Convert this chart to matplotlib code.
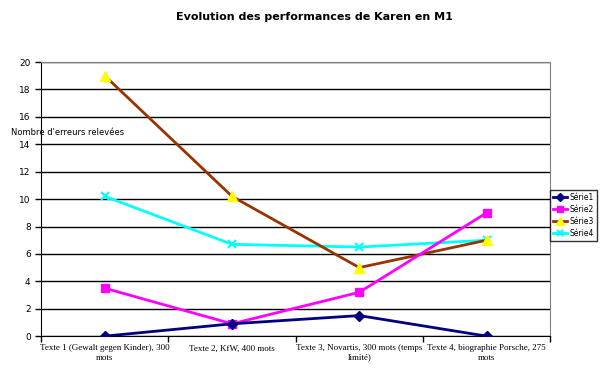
import matplotlib
matplotlib.use("Agg")
import matplotlib.pyplot as plt

categories = [
    "Texte 1 (Gewalt gegen Kinder), 300\nmots",
    "Texte 2, KfW, 400 mots",
    "Texte 3, Novartis, 300 mots (temps\nlimité)",
    "Texte 4, biographie Porsche, 275\nmots",
]
serie1 = [0, 0.9, 1.5, 0]
serie2 = [3.5, 0.9, 3.2, 9]
serie3 = [19, 10.2, 5, 7]
serie4 = [10.2, 6.7, 6.5, 7]
y_ticks = list(range(0, 21, 2))

fig = plt.figure(figsize=(6.04, 3.76), dpi=100)
ax = fig.add_axes([0.068, 0.106, 0.843, 0.729])

x = list(range(len(categories)))
ax.plot(x, serie1, color="#000080", lw=2, marker="D", ms=5, mfc="#000080", mec="#000080", label="Série1", zorder=5)
ax.plot(x, serie2, color="#ff00ff", lw=2, marker="s", ms=6, mfc="#ff00ff", mec="#ff00ff", label="Série2", zorder=4)
ax.plot(x, serie3, color="#993300", lw=2, marker="^", ms=7, mfc="#ffff00", mec="#ffff00", label="Série3", zorder=3)
ax.plot(x, serie4, color="#00ffff", lw=2, marker="x", ms=6, mew=1.5, label="Série4", zorder=2)

ax.set_xlim(-0.5, 3.5)
ax.set_ylim(0, 20)
ax.set_yticks(y_ticks)
ax.set_yticklabels([str(v) for v in y_ticks], fontsize=6.5)
ax.yaxis.grid(True, color="black", lw=1)
ax.set_axisbelow(True)

# tick marks between categories, labels centred
ax.set_xticks([-0.5, 0.5, 1.5, 2.5, 3.5])
ax.set_xticklabels([])
ax.set_xticks(x, minor=True)
ax.set_xticklabels(categories, minor=True, fontsize=6.5, family="Liberation Serif")
ax.tick_params(axis="x", which="minor", length=0, pad=6)
ax.tick_params(axis="both", which="major", length=4, width=1, direction="out")

ax.spines["left"].set_color("black")
ax.spines["bottom"].set_color("black")
ax.spines["top"].set_color("gray")
ax.spines["right"].set_color("gray")

fig.text(0.52, 0.955, "Evolution des performances de Karen en M1", ha="center", va="center",
         fontsize=8, fontweight="bold")
fig.text(0.018, 0.648, "Nombre d'erreurs relevées", ha="left", va="center", fontsize=6)

leg = ax.legend(loc="center left", bbox_to_anchor=(1.0, 0.44), fontsize=5.5, frameon=True,
                fancybox=False, edgecolor="black", handlelength=1.8, borderpad=0.4,
                labelspacing=0.4, handletextpad=0.3, borderaxespad=0, markerscale=0.8)
leg.get_frame().set_linewidth(1)

fig.savefig("out.png", dpi=100)
